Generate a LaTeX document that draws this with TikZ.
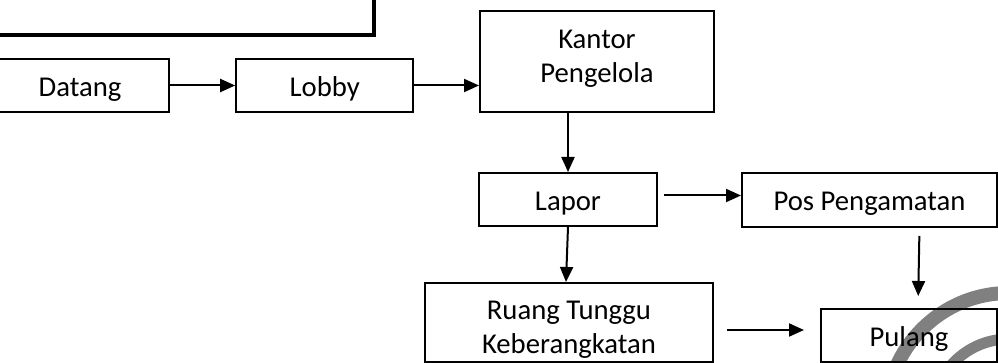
\documentclass[tikz,border=0pt]{standalone}
\usepackage{fontspec}
\setmainfont{Carlito}
\usetikzlibrary{arrows.meta}
\begin{document}
\begin{tikzpicture}[x=0.5pt, y=-0.5pt,
  box/.style={draw, line width=1pt, inner sep=0pt, align=center, text height=11pt, text depth=0pt, font=\fontsize{14.35}{17}\selectfont},
  arr/.style={-{Triangle[length=7.5pt, width=6.5pt]}, line width=1pt}]

\useasboundingbox (0,0) rectangle (998,363);
\clip (0,0) rectangle (998,363);

\draw [gray, line width=7pt] (1009,416) circle [radius=61.5pt];
\draw [gray, line width=5.5pt] (1009,416) circle [radius=38.5pt];

\draw [line width=2pt] (-20,-20) rectangle (374,35.5);

\node [box, minimum width=89pt, minimum height=26.5pt] (datang) at (80,85.5) {Datang};
\node [box, minimum width=88.5pt, minimum height=26.5pt] (lobby) at (324.7,85.5) {Lobby};
\node [box, minimum width=117pt, minimum height=50.5pt, text height=21.5pt] (kantor) at (597,61.5) {Kantor\\Pengelola};
\node [box, minimum width=89pt, minimum height=26.5pt] (lapor) at (568,199.5) {Lapor};
\node [box, minimum width=127.5pt, minimum height=27pt] (pos) at (869.5,200) {Pos Pengamatan};
\node [box, minimum width=144pt, minimum height=39.5pt, text height=31.5pt] (ruang) at (569,322.5) {Ruang Tunggu\\Keberangkatan};
\node [box, minimum width=88pt, minimum height=26.5pt] (pulang) at (909,335.5) {Pulang};

\draw [arr] (datang) -- (lobby);
\draw [arr] (lobby.east) -- (lobby.east -| kantor.west);
\draw [arr] (lapor.north |- kantor.south) -- (lapor.north);
\draw [arr, shorten <=3pt] ([yshift=2pt]lapor.east) -- ([yshift=2pt]lapor.east -| pos.west);
\draw [arr] (lapor.south) -- ([xshift=-1.5pt]ruang.north);
\draw [arr, shorten <=4pt, shorten >=6pt] ([xshift=25pt]pos.south) -- ([xshift=4.5pt]pulang.north);
\draw [arr, shorten <=6.5pt, shorten >=8pt] ([yshift=-3.75pt]ruang.east) -- ([yshift=2.75pt]pulang.west);
\end{tikzpicture}
\end{document}
